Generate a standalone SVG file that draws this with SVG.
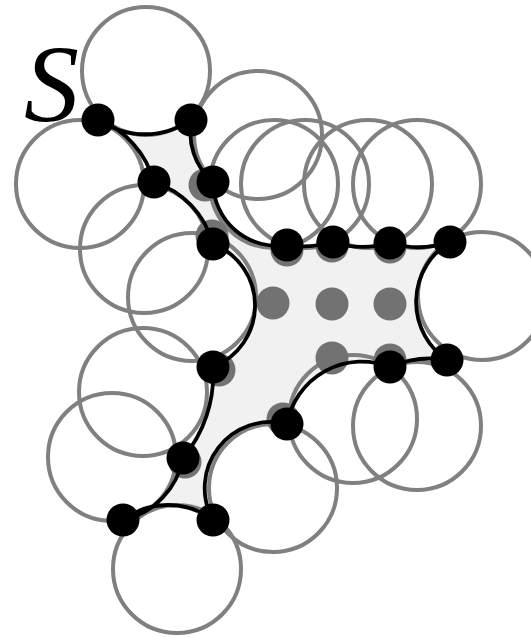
<svg xmlns="http://www.w3.org/2000/svg" width="531" height="637" viewBox="0 0 531 637">
<style>
.c{fill:none;stroke:#808080;stroke-width:4}
.g{fill:#727272}
.b{fill:#000}
.edge{fill:none;stroke:#000;stroke-width:3.8;stroke-linejoin:round}
.lbl{font-family:"Liberation Serif","Times New Roman",serif;font-style:italic;font-size:110px;fill:#000}
</style>
<rect width="531" height="637" fill="#fff"/>
<g id="region">
<path fill="#f1f1f1" d="M98,119 A80,80 0 0 0 192,119 A64,64 0 0 0 213,182 A64,64 0 0 0 287,245 A100,100 0 0 0 332,242 A100,100 0 0 0 390,243 A100,100 0 0 0 450,242 A70,70 0 0 0 447,360 A100,100 0 0 0 390,367 A76,76 0 0 0 287,424 A66,66 0 0 0 213,520 A75,75 0 0 0 123,520 A78,78 0 0 0 183,458 A130,130 0 0 0 213,367 A66,66 0 0 0 213,244 A90,90 0 0 0 154,182 A95,95 0 0 0 98,119 Z"/>
</g>
<g id="circles">
<circle class="c" cx="146" cy="71" r="64"/>
<circle class="c" cx="258" cy="135" r="64"/>
<circle class="c" cx="80" cy="184" r="64"/>
<circle class="c" cx="144" cy="249" r="64"/>
<circle class="c" cx="192" cy="297" r="64"/>
<circle class="c" cx="274" cy="184" r="64"/>
<circle class="c" cx="305" cy="184" r="64"/>
<circle class="c" cx="368" cy="184" r="64"/>
<circle class="c" cx="417" cy="184" r="64"/>
<circle class="c" cx="482" cy="296" r="64"/>
<circle class="c" cx="417" cy="426" r="64"/>
<circle class="c" cx="353" cy="419" r="64"/>
<circle class="c" cx="273" cy="488" r="64"/>
<circle class="c" cx="143" cy="392" r="64"/>
<circle class="c" cx="112" cy="457" r="64"/>
<circle class="c" cx="177" cy="569" r="64"/>
</g>
<g id="gray-dots">
<circle class="g" cx="205" cy="185" r="16.5"/>
<circle class="g" cx="212" cy="236" r="16.5"/>
<circle class="g" cx="287" cy="250" r="16.5"/>
<circle class="g" cx="332" cy="246" r="16.5"/>
<circle class="g" cx="390" cy="247" r="16.5"/>
<circle class="g" cx="273" cy="303" r="16.5"/>
<circle class="g" cx="332" cy="304" r="16.5"/>
<circle class="g" cx="390" cy="304" r="16.5"/>
<circle class="g" cx="332" cy="358" r="16.5"/>
<circle class="g" cx="390" cy="360" r="16.5"/>
<circle class="g" cx="219" cy="370" r="16.5"/>
<circle class="g" cx="283" cy="419" r="16.5"/>
<circle class="g" cx="185" cy="462" r="16.5"/>
</g>
<g id="connectors">
<path class="edge" d="M98,119 A80,80 0 0 0 192,119 A64,64 0 0 0 213,182 A64,64 0 0 0 287,245 A100,100 0 0 0 332,242 A100,100 0 0 0 390,243 A100,100 0 0 0 450,242 A70,70 0 0 0 447,360 A100,100 0 0 0 390,367 A76,76 0 0 0 287,424 A66,66 0 0 0 213,520 A75,75 0 0 0 123,520 A78,78 0 0 0 183,458 A130,130 0 0 0 213,367 A66,66 0 0 0 213,244 A90,90 0 0 0 154,182 A95,95 0 0 0 98,119 Z"/>
</g>
<g id="points">
<g id="p1"><circle class="b" cx="98" cy="120" r="16.5"/></g>
<g id="p2"><circle class="b" cx="191" cy="120" r="16.5"/></g>
<g id="p3"><circle class="b" cx="154" cy="182" r="16.5"/></g>
<g id="p4"><circle class="b" cx="213" cy="182" r="16.5"/></g>
<g id="p5"><circle class="b" cx="213" cy="244" r="16.5"/></g>
<g id="p6"><circle class="b" cx="287" cy="245" r="16.5"/></g>
<g id="p7"><circle class="b" cx="333" cy="242" r="16.5"/></g>
<g id="p8"><circle class="b" cx="390" cy="243" r="16.5"/></g>
<g id="p9"><circle class="b" cx="450" cy="242" r="16.5"/></g>
<g id="p10"><circle class="b" cx="447" cy="360" r="16.5"/></g>
<g id="p11"><circle class="b" cx="390" cy="367" r="16.5"/></g>
<g id="p12"><circle class="b" cx="287" cy="424" r="16.5"/></g>
<g id="p13"><circle class="b" cx="213" cy="367" r="16.5"/></g>
<g id="p14"><circle class="b" cx="183" cy="458" r="16.5"/></g>
<g id="p15"><circle class="b" cx="123" cy="520" r="16.5"/></g>
<g id="p16"><circle class="b" cx="213" cy="520" r="16.5"/></g>
</g>
<g id="label"><text class="lbl" x="24" y="121">S</text></g>
</svg>
